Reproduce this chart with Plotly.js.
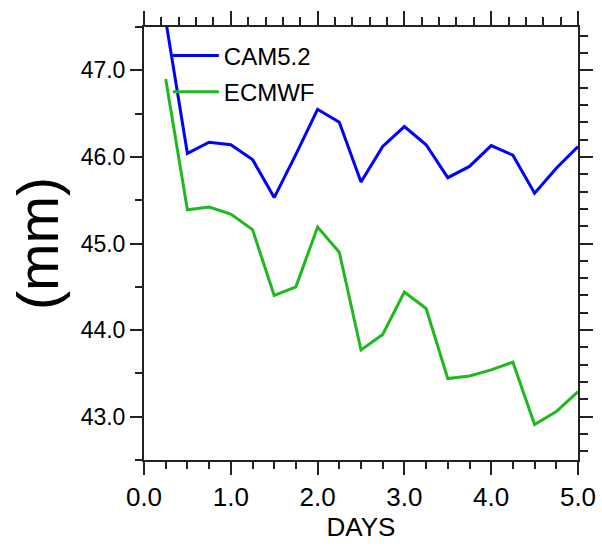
<!DOCTYPE html>
<html>
<head>
<meta charset="utf-8">
<script src="https://cdn.plot.ly/plotly-3.0.1.min.js"></script>
<style>html,body{margin:0;padding:0;background:#fff;}#chart{width:602px;height:546px;}</style>
</head>
<body>
<div id="chart"></div>
<script>
const days = [0.25, 0.5, 0.75, 1.0, 1.25, 1.5, 1.75, 2.0, 2.25, 2.5, 2.75, 3.0, 3.25, 3.5, 3.75, 4.0, 4.25, 4.5, 4.75, 5.0];
const cam52 = [47.58, 46.04, 46.17, 46.14, 45.97, 45.53, 46.03, 46.55, 46.40, 45.71, 46.12, 46.35, 46.14, 45.76, 45.89, 46.13, 46.02, 45.58, 45.87, 46.12];
const ecmwf = [46.90, 45.39, 45.42, 45.34, 45.16, 44.40, 44.50, 45.19, 44.90, 43.77, 43.95, 44.44, 44.25, 43.44, 43.47, 43.54, 43.63, 42.91, 43.06, 43.29];
const seriesNames = ["CAM5.2", "ECMWF"];
const xTickVals = [0, 1, 2, 3, 4, 5];
const xTickText = ["0.0", "1.0", "2.0", "3.0", "4.0", "5.0"];
const yTickVals = [43, 44, 45, 46, 47];
const yTickText = ["43.0", "44.0", "45.0", "46.0", "47.0"];

const axCol = "#222";
const traces = [
  {x: days, y: cam52, name: seriesNames[0], type: "scatter", mode: "lines",
   line: {color: "#0000ff", width: 3}, legendgroup: "a"},
  {x: days, y: ecmwf, name: seriesNames[1], type: "scatter", mode: "lines",
   line: {color: "#1fb81f", width: 3}, legendgroup: "b"},
  {x: [], y: [], xaxis: "x2", yaxis: "y2", showlegend: false, hoverinfo: "skip", type: "scatter", mode: "lines"}
];

const layout = {
  width: 602, height: 546,
  margin: {l: 144, r: 24, t: 27, b: 86},
  paper_bgcolor: "#fff", plot_bgcolor: "#fff",
  font: {family: "Liberation Sans, Arial, sans-serif", color: "#000"},
  showlegend: true,
  legend: {x: 0.055, y: 0.985, xanchor: "left", yanchor: "top", bgcolor: "rgba(0,0,0,0)",
           font: {size: 24, color: "#000"}, tracegroupgap: 2, itemwidth: 46},
  xaxis: {range: [0, 5], tickvals: xTickVals, ticktext: xTickText, ticks: "outside", ticklen: 13,
          tickwidth: 2, tickcolor: axCol, showline: true, linecolor: axCol, linewidth: 2,
          showgrid: false, zeroline: false, tickfont: {size: 26},
          minor: {dtick: 0.25, tick0: 0, ticks: "outside", ticklen: 7, tickwidth: 2, tickcolor: axCol, showgrid: false},
          title: {text: "DAYS", font: {size: 26}, standoff: 4}},
  yaxis: {range: [42.5, 47.5], tickvals: yTickVals, ticktext: yTickText, ticks: "outside", ticklen: 12,
          tickwidth: 2, tickcolor: axCol, showline: true, linecolor: axCol, linewidth: 2,
          showgrid: false, zeroline: false, tickfont: {size: 23},
          minor: {dtick: 0.5, tick0: 42.5, ticks: "outside", ticklen: 7, tickwidth: 2, tickcolor: axCol, showgrid: false},
          title: {text: "(mm)", font: {size: 57}, standoff: 4}},
  xaxis2: {range: [0, 5], overlaying: "x", side: "top", anchor: "y2", dtick: 1, tick0: 0, showticklabels: false,
           ticks: "outside", ticklen: 14, tickwidth: 2, tickcolor: axCol, showline: true, linecolor: axCol, linewidth: 2,
           showgrid: false, zeroline: false,
           minor: {dtick: 0.2, tick0: 0, ticks: "outside", ticklen: 8, tickwidth: 2, tickcolor: axCol, showgrid: false}},
  yaxis2: {range: [42.5, 47.5], overlaying: "y", side: "right", anchor: "x2", dtick: 1, tick0: 43, showticklabels: false,
           ticks: "outside", ticklen: 13, tickwidth: 2, tickcolor: axCol, showline: true, linecolor: axCol, linewidth: 2,
           showgrid: false, zeroline: false,
           minor: {dtick: 0.2, tick0: 42.6, ticks: "outside", ticklen: 8, tickwidth: 2, tickcolor: axCol, showgrid: false}}
};

Plotly.newPlot("chart", traces, layout, {displayModeBar: false, staticPlot: true});
</script>
</body>
</html>
